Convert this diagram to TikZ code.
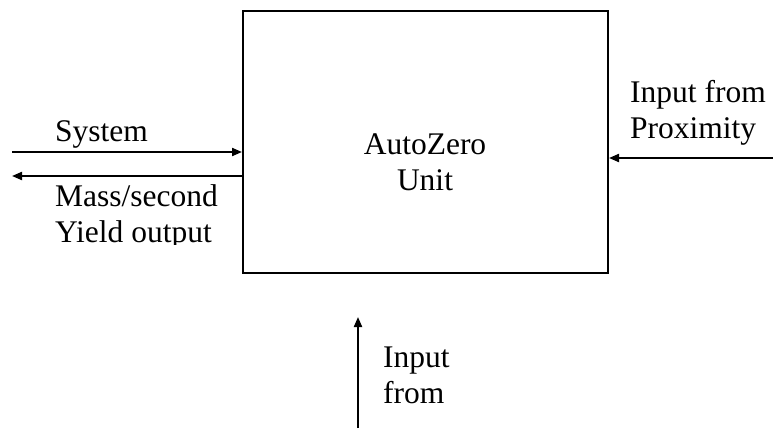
\documentclass[tikz,border=0pt]{standalone}
\usepackage{fontspec}
\setmainfont{Liberation Serif}
\usetikzlibrary{arrows.meta}
\begin{document}
\begin{tikzpicture}[x=1pt,y=-1pt,
  lbl/.style={inner sep=0pt,anchor=base west,font=\fontsize{31.5}{36}\selectfont,align=left},
  conn/.style={line width=2pt,-{Triangle[length=10pt,width=8pt]}},
  unitbox/.style={draw,line width=2pt,minimum width=365pt,minimum height=262pt,inner sep=0pt}]
\useasboundingbox (0,0) rectangle (773,428);
\node[unitbox] (unit) at (425.5,142) {};
\node[lbl,anchor=base,align=center] (unitlabel) at (425,190) {AutoZero\\Unit};
\node[lbl] (sys) at (55,141) {System};
\begin{scope}
\clip (40,178) rectangle (240,244);
\node[lbl] (mass) at (55,242) {Mass/second\\Yield output};
\end{scope}
\node[lbl] (prox) at (630,138) {Input from\\Proximity};
\node[lbl] (inp) at (383,403) {Input\\from};
\coordinate (sysstart) at (12,152);
\coordinate (outend) at (12,176);
\coordinate (proxstart) at (773,158);
\coordinate (inpstart) at (358,428);
\draw[conn] (sysstart) -- (sysstart -| unit.west);
\draw[conn] (outend -| unit.west) -- (outend);
\draw[conn] (proxstart) -- (proxstart -| unit.east);
\draw[conn] (inpstart) -- (358,317);
\end{tikzpicture}
\end{document}
